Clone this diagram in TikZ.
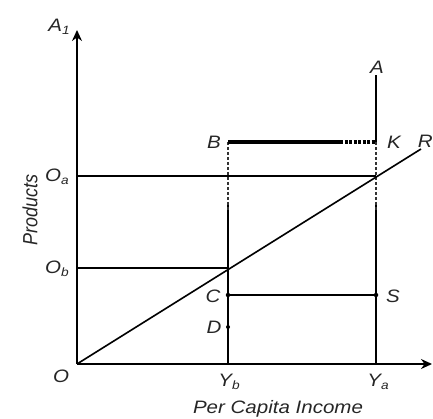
\documentclass[tikz,border=0pt]{standalone}
\usepackage{fontspec}
\setmainfont{Liberation Sans}
\usetikzlibrary{arrows.meta}
\newcommand{\sbs}[1]{\raisebox{-3pt}{\fontsize{12}{12}\selectfont #1}}
\begin{document}
\begin{tikzpicture}[x=1pt,y=-1pt,
  lbl/.style={font=\itshape\fontsize{18}{18}\selectfont, inner sep=0pt, xscale=1.14, text=black!85},
  ln/.style={line width=1.6pt},
  dsh/.style={line width=1.3pt, black!80, dash pattern=on 3pt off 2pt},
  dotp/.style={circle, fill=black, inner sep=0pt, minimum size=4.5pt}]
\useasboundingbox (0,0) rectangle (433,419);
% key points
\coordinate (O) at (77,364);
\coordinate (Ytop) at (77,30);
\coordinate (Xend) at (432,364);
\coordinate (Yb) at (228,364);
\coordinate (Ya) at (376,364);
\coordinate (Atop) at (376,75);
\coordinate (B) at (228,142);
\coordinate (K) at (376,142);
\coordinate (Kd) at (340,142);
\coordinate (Bsplit) at (228,204);
\coordinate (Bdash) at (228,210);
\coordinate (Ksplit) at (376,204);
\coordinate (Kdash) at (376,210);
\coordinate (Oa) at (77,176);
\coordinate (Ob) at (77,268);
\coordinate (Pa) at (376,176);
\coordinate (Pb) at (228,268);
\coordinate (Rend) at (421,149);
\coordinate (C) at (228,295);
\coordinate (S) at (376,295);
\coordinate (D) at (228,327);
% axes
\draw[ln,-{Stealth[length=11pt,width=10pt]}] (O) -- (Ytop);
\draw[ln,-{Stealth[length=11pt,width=10pt]}] (O) -- (Xend);
% verticals
\draw[ln] (Yb) -- (Bsplit);
\draw[dsh] (B) -- (Bdash);
\draw[ln] (Ya) -- (Ksplit);
\draw[dsh] (K) -- (Kdash);
\draw[ln] (K) -- (Atop);
% horizontals
\draw[ln] (Oa) -- (Pa);
\draw[ln] (Ob) -- (Pb);
\draw[line width=3.6pt] (B) -- (Kd);
\draw[line width=3.6pt, dash pattern=on 3pt off 1.5pt] (Kd) -- (K);
\draw[line width=2.6pt] (C) -- (S);
% OR line
\draw[ln] (O) -- (Rend);
% dots
\node[dotp] (cdot) at (C) {};
\node[dotp] (sdot) at (S) {};
\node[dotp, minimum size=4pt] (ddot) at (D) {};
% labels
\node[lbl] (lA1) at (59,27) {A\sbs{1}};
\node[lbl] (lA) at (377,67) {A};
\node[lbl] (lB) at (214,142) {B};
\node[lbl] (lK) at (394,142) {K};
\node[lbl, anchor=south east] (lR) at (433,148) {R};
\node[lbl] (lOa) at (57,177) {O\sbs{a}};
\node[lbl] (lOb) at (57,269) {O\sbs{b}};
\node[lbl] (lC) at (213,296) {C};
\node[lbl] (lD) at (214,327) {D};
\node[lbl] (lS) at (393,296) {S};
\node[lbl] (lO) at (61,376) {O};
\node[lbl] (lYb) at (229,382) {Y\sbs{b}};
\node[lbl] (lYa) at (378,382) {Y\sbs{a}};
\node[lbl] (lPCI) at (278,409) {Per Capita Income};
\node[lbl, rotate=90] (lP) at (30,210) {Products};
\end{tikzpicture}
\end{document}
